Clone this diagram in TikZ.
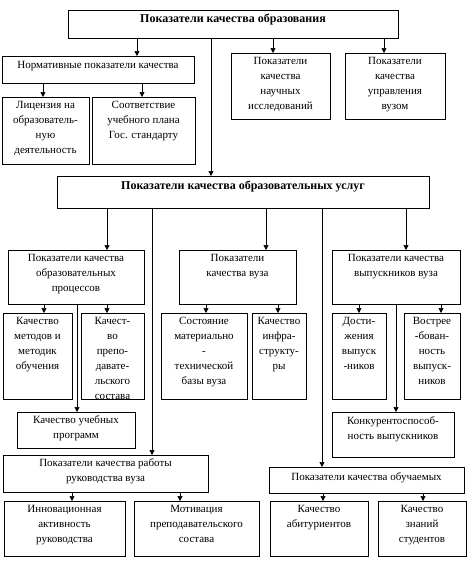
\documentclass[tikz,border=0pt]{standalone}
\usepackage{fontspec}
\setmainfont{Liberation Serif}
\usetikzlibrary{arrows.meta}
\tikzset{
  box/.style={draw, line width=0.7pt, inner sep=0pt, outer sep=0pt, anchor=north west},
  txt/.style={align=center, inner sep=0pt, anchor=north, font=\fontsize{11}{15}\selectfont},
  arr/.style={line width=0.7pt, -{Triangle[length=5pt,width=5pt]}},
  ln/.style={line width=0.7pt}
}
\newcommand\bx[7]{%
  \node[box, minimum width={#4-#2}, minimum height={#5-#3}] (#1) at (#2,#3) {};
  \node[txt] (#1t) at ([yshift=-#7pt]#1.north) {#6};}
\newcommand\bigb{\fontsize{12}{15}\selectfont\bfseries}
\begin{document}
\begin{tikzpicture}[x=1pt,y=-1pt]
\useasboundingbox (0,0) rectangle (468,565);
% row 1
\bx{top}{68}{10}{398}{38}{\bigb Показатели качества образования}{4}
\bx{norm}{2}{56}{194}{83}{Нормативные показатели качества}{5}
\bx{nauch}{231}{53}{330}{119}{Показатели\\качества\\научных\\исследований}{4}
\bx{upr}{345}{53}{445}{119}{Показатели\\качества\\управления\\вузом}{4}
\bx{lic}{2}{97}{89}{164}{Лицензия на\\образователь-\\ную\\деятельность}{4}
\bx{sootv}{92}{97}{195}{164}{Соответствие\\учебного плана\\Гос. стандарту}{4}
% services
\bx{usl}{57}{176}{429}{208}{\bigb Показатели качества образовательных услуг}{5}
\bx{proc}{8}{250}{144}{304}{Показатели качества\\образовательных\\процессов}{4}
\bx{vuz}{179}{250}{296}{304}{Показатели\\качества вуза}{4}
\bx{vyp}{332}{250}{460}{304}{Показатели качества\\выпускников вуза}{4}
% row 3
\bx{met}{3}{313}{72}{399}{Качество\\методов и\\методик\\обучения}{4}
\bx{prep}{81}{313}{144}{399}{Качест-\\во\\препо-\\давате-\\льского\\состава}{4}
\bx{mat}{161}{313}{247}{399}{Состояние\\материально\\-\\технической\\базы вуза}{4}
\bx{infr}{252}{313}{306}{399}{Качество\\инфра-\\структу-\\ры}{4}
\bx{dost}{332}{313}{386}{399}{Дости-\\жения\\выпуск\\-ников}{4}
\bx{vost}{404}{313}{460}{399}{Вострее\\-бован-\\ность\\выпуск-\\ников}{4}
\bx{prog}{17}{412}{135}{448}{Качество учебных\\программ}{3}
\bx{konk}{332}{412}{454}{457}{Конкурентоспособ-\\ность выпускников}{4}
% bottom
\bx{ruk}{3}{455}{208}{492}{Показатели качества работы\\руководства вуза}{3}
\bx{obuch}{269}{467}{464}{493}{Показатели качества обучаемых}{5}
\bx{innov}{4}{501}{125}{556}{Инновационная\\активность\\руководства}{4}
\bx{motiv}{134}{501}{259}{556}{Мотивация\\преподавательского\\состава}{4}
\bx{abit}{270}{501}{368}{556}{Качество\\абитуриентов}{4}
\bx{znan}{378}{501}{466}{556}{Качество\\знаний\\студентов}{4}
% connectors
\draw[arr] (top.south -| 137,0) -- (norm.north -| 137,0);
\draw[arr] (top.south -| 211,0) -- (usl.north -| 211,0);
\draw[arr] (top.south -| 273,0) -- (nauch.north -| 273,0);
\draw[arr] (top.south -| 384,0) -- (upr.north -| 384,0);
\draw[arr] (norm.south -| 43,0) -- (lic.north -| 43,0);
\draw[arr] (norm.south -| 142,0) -- (sootv.north -| 142,0);
\draw[arr] (usl.south -| 107,0) -- (proc.north -| 107,0);
\draw[arr] (usl.south -| 152,0) -- (ruk.north -| 152,0);
\draw[arr] (usl.south -| 266,0) -- (vuz.north -| 266,0);
\draw[arr] (usl.south -| 322,0) -- (obuch.north -| 322,0);
\draw[arr] (usl.south -| 406,0) -- (vyp.north -| 406,0);
\draw[arr] (proc.south -| 44,0) -- (met.north -| 44,0);
\draw[arr] (proc.south -| 107,0) -- (prep.north -| 107,0);
\draw[arr] (proc.south -| 77,0) -- (prog.north -| 77,0);
\draw[arr] (vuz.south -| 206,0) -- (mat.north -| 206,0);
\draw[arr] (vuz.south -| 278,0) -- (infr.north -| 278,0);
\draw[arr] (vyp.south -| 359,0) -- (dost.north -| 359,0);
\draw[arr] (vyp.south -| 441,0) -- (vost.north -| 441,0);
\draw[arr] (vyp.south -| 396,0) -- (konk.north -| 396,0);
\draw[arr] (ruk.south -| 72,0) -- (innov.north -| 72,0);
\draw[arr] (ruk.south -| 180,0) -- (motiv.north -| 180,0);
\draw[arr] (obuch.south -| 323,0) -- (abit.north -| 323,0);
\draw[arr] (obuch.south -| 423,0) -- (znan.north -| 423,0);
\end{tikzpicture}
\end{document}
